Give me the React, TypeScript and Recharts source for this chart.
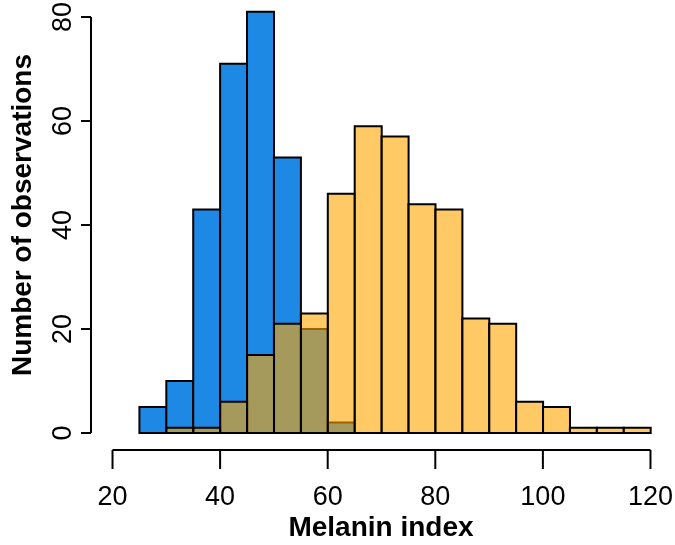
import React from "react";
import { BarChart, Bar, XAxis, YAxis, ReferenceLine } from "recharts";

// Histogram bins (width 5) of melanin index
const binStarts = [25, 30, 35, 40, 45, 50, 55, 60, 65, 70, 75, 80, 85, 90, 95, 100, 105, 110, 115];
const blueCounts = [5, 10, 43, 71, 81, 53, 20, 2, 0, 0, 0, 0, 0, 0, 0, 0, 0, 0, 0];
const orangeCounts = [0, 1, 1, 6, 15, 21, 23, 46, 59, 57, 44, 43, 22, 21, 6, 5, 1, 1, 1];
const binWidth = 5;
const xTicks = [20, 40, 60, 80, 100, 120];
const yTicks = [0, 20, 40, 60, 80];

const data = binStarts.map((s, i) => ({
  mid: s + binWidth / 2,
  blue: blueCounts[i],
  orange: orangeCounts[i],
}));

const FONT = "'Liberation Sans', Arial, Helvetica, sans-serif";

const YTick = (props: any) => {
  const { x, y, payload } = props;
  return (
    <text
      x={x}
      y={y}
      transform={`rotate(-90, ${x}, ${y})`}
      textAnchor="middle"
      fontFamily={FONT}
      fontSize={27}
      fill="#000"
    >
      {payload.value}
    </text>
  );
};

const XTick = (props: any) => {
  const { x, y, payload } = props;
  return (
    <text x={x} y={y} textAnchor="middle" fontFamily={FONT} fontSize={27} fill="#000">
      {payload.value}
    </text>
  );
};

export default function App() {
  return (
    <div style={{ position: "fixed", left: 0, top: 0, width: 675, height: 545 }}>
      <BarChart
        width={675}
        height={545}
        data={data}
        margin={{ top: 0, right: 3, left: 0, bottom: 0 }}
        barCategoryGap={0}
        barGap="-100%"
      >
        <XAxis
          dataKey="mid"
          type="number"
          domain={[16, 124]}
          allowDataOverflow
          ticks={xTicks}
          interval={0}
          axisLine={false}
          tickLine={{ stroke: "#000", strokeWidth: 2 }}
          tickSize={19}
          tickMargin={0}
          height={95}
          tick={(p: any) => <XTick {...p} y={505} />}
          label={() => (
            <text
              x={381}
              y={536}
              textAnchor="middle"
              fontFamily={FONT}
              fontSize={28}
              fontWeight="bold"
              fill="#000"
            >
              Melanin index
            </text>
          )}
        />
        <YAxis
          type="number"
          domain={[-3.27, 83.27]}
          allowDataOverflow
          ticks={yTicks}
          interval={0}
          axisLine={false}
          tickLine={{ stroke: "#000", strokeWidth: 2 }}
          tickSize={10}
          tickMargin={0}
          width={91}
          tick={(p: any) => <YTick {...p} x={71} />}
          label={() => (
            <text
              x={31}
              y={215}
              transform="rotate(-90, 31, 215)"
              textAnchor="middle"
              fontFamily={FONT}
              fontSize={28}
              fontWeight="bold"
              fill="#000"
            >
              Number of observations
            </text>
          )}
        />
        <Bar
          dataKey="blue"
          fill="#1E88E5"
          stroke="#000"
          strokeWidth={2}
          isAnimationActive={false}
        />
        <Bar
          dataKey="orange"
          fill="rgb(255,165,0)"
          fillOpacity={0.6}
          stroke="#000"
          strokeWidth={2}
          isAnimationActive={false}
        />
        <ReferenceLine
          segment={[{ x: 20, y: -3.27 }, { x: 120, y: -3.27 }]}
          stroke="#000"
          strokeWidth={2}
          ifOverflow="visible"
        />
        <ReferenceLine
          segment={[{ x: 16, y: 0 }, { x: 16, y: 80 }]}
          stroke="#000"
          strokeWidth={2}
          ifOverflow="visible"
        />
      </BarChart>
    </div>
  );
}
